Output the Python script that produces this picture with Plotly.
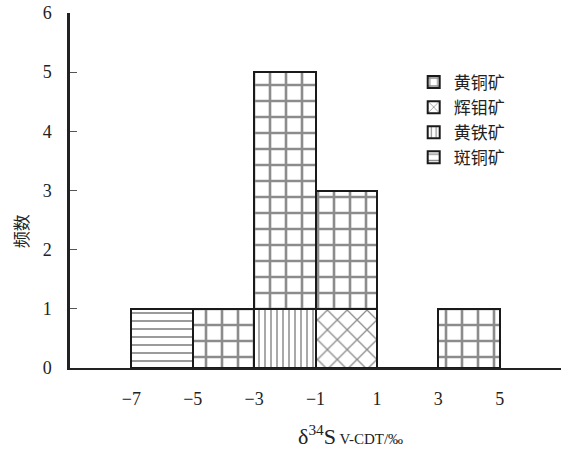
import plotly.graph_objects as go

# Histogram bins of δ34S (‰), bin centres and counts per mineral
bin_centers = [-6, -4, -2, 0, 2, 4]
bin_width = 2
chalcopyrite = [0, 1, 4, 2, 0, 1]   # 黄铜矿
molybdenite = [0, 0, 0, 1, 0, 0]    # 辉钼矿
pyrite = [0, 0, 1, 0, 0, 0]         # 黄铁矿
bornite = [1, 0, 0, 0, 0, 0]        # 斑铜矿

x_ticks = [-7, -5, -3, -1, 1, 3, 5]
y_ticks = [0, 1, 2, 3, 4, 5, 6]

serif = "Liberation Serif"
cjk = "Noto Sans CJK SC"

def bar(name, values, shape, size, solidity, rank):
    return go.Bar(
        x=bin_centers, y=values, width=bin_width, name=name,
        legendrank=rank,
        marker=dict(
            color="white",
            line=dict(color="#1a1a1a", width=2),
            pattern=dict(shape=shape, size=size, solidity=solidity,
                         fgcolor="#1a1a1a", bgcolor="white", fillmode="overlay"),
        ),
        hoverinfo="skip",
    )

fig = go.Figure()
# stacking order: single-mineral bins at the bottom, chalcopyrite on top
fig.add_trace(bar("斑铜矿", bornite, "-", 8, 0.22, 4))
fig.add_trace(bar("黄铁矿", pyrite, "|", 6, 0.25, 3))
fig.add_trace(bar("辉钼矿", molybdenite, "x", 14, 0.18, 2))
fig.add_trace(bar("黄铜矿", chalcopyrite, "+", 16, 0.3, 1))

fig.update_layout(
    width=570, height=453,
    margin=dict(l=70, r=9, t=13, b=85),
    paper_bgcolor="white", plot_bgcolor="white",
    barmode="stack", bargap=0,
    showlegend=True,
    legend=dict(x=0.7, y=0.855, xanchor="left", yanchor="top",
                traceorder="normal",
                font=dict(family=cjk, size=17, color="#222"),
                bgcolor="rgba(0,0,0,0)", tracegroupgap=0, itemwidth=30),
    xaxis=dict(range=[-9, 7], tickvals=x_ticks,
               ticktext=[("−" + str(-v)) if v < 0 else str(v) for v in x_ticks],
               showgrid=False, zeroline=False, showline=True,
               linecolor="#222", linewidth=1.5, ticks="",
               ticklabelstandoff=14, automargin=False,
               tickfont=dict(family=serif, size=18, color="#222")),
    yaxis=dict(range=[0, 6], tickvals=y_ticks, showgrid=False, zeroline=False,
               showline=True, linecolor="#222", linewidth=2.5,
               ticks="inside", ticklen=7, tickwidth=1, tickcolor="#555",
               ticklabelstandoff=12, automargin=False,
               tickfont=dict(family=serif, size=18, color="#222")),
    font=dict(family=serif, color="#222"),
)

fig.add_annotation(
    text="频数", textangle=-90, xref="paper", yref="paper",
    x=-0.102, y=0.385, xanchor="center", yanchor="middle", showarrow=False,
    font=dict(family=cjk, size=17, color="#222"),
)
fig.add_annotation(
    text="δ<sup>34</sup>S<span style='font-size:15px'> V-CDT/‰</span>",
    xref="paper", yref="paper", x=0.572, y=-0.19,
    xanchor="center", yanchor="middle", showarrow=False,
    font=dict(family=serif, size=22, color="#222"),
)

fig.write_html("out.html")
